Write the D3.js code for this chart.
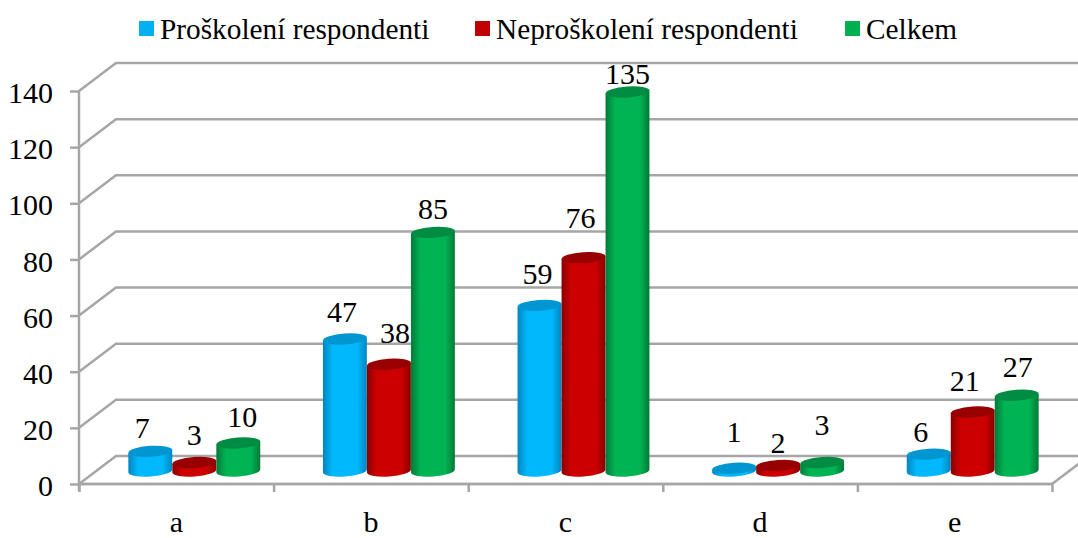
<!DOCTYPE html>
<html><head><meta charset="utf-8">
<script src="https://cdn.jsdelivr.net/npm/d3@7/dist/d3.min.js"></script>
<style>html,body{margin:0;padding:0;background:#fff;overflow:hidden}svg{display:block}text{font-family:"Liberation Serif",serif;fill:#000}</style>
</head><body><svg id="c" width="1078" height="538"></svg>
<script>
const categories = ["a","b","c","d","e"];
const seriesNames = ["Proškolení respondenti","Neproškolení respondenti","Celkem"];
const trained = [7,47,59,1,6];
const untrained = [3,38,76,2,21];
const total = [10,85,135,3,27];
const yTicks = [0,20,40,60,80,100,120,140];
const seriesValues = [trained,untrained,total];

// styling and layout
const bright = ["#00b8fb","#cc0000","#00b454"];
const edge = ["#0085c0","#8a0000","#007a38"];
const cap = ["#0096d2","#980000","#008c42"];
const swatch = ["#00b0f0","#c00000","#00b050"];
const legendX = [139,475,845];
const labelLift = [[13,17,21,26,12],[18,21,30,12,21],[16,13,8,28,18]]; // label baseline above cap centre
const labelShift = [[-8,-3,-2,0,-8],[0,6,-3,0,-8],[4,0,0,0,1]];
const gray = "#a6a6a6", fs = 30, depthX = 37, depthY = 28, rx = 22, ry = 5.5, tilt = 4;

const svg = d3.select("#c");
const y = d3.scaleLinear().domain([0,140]).range([484,91]);
const x = d3.scaleBand().domain(categories).range([79,1052]);
const inner = d3.scaleBand().domain(d3.range(3)).range([x.bandwidth()/2+18-66, x.bandwidth()/2+18+66]);

// gradients
const defs = svg.append("defs");
bright.forEach((b,i)=>{
  const g = defs.append("linearGradient").attr("id","g"+i).attr("x1",0).attr("x2",1).attr("y1",0).attr("y2",0);
  [[0,edge[i]],[.22,b],[.5,b],[.78,b],[1,edge[i]]].forEach(s=>g.append("stop").attr("offset",s[0]).attr("stop-color",s[1]));
});

// back wall gridlines and side diagonals
const grid = svg.append("g").attr("fill","none").attr("stroke",gray).attr("stroke-width",2.5);
grid.selectAll("path").data(yTicks).join("path")
  .attr("d",t=>`M79,${y(t)}L${79+depthX},${y(t)-depthY}L1090,${y(t)-depthY}`);
grid.append("path").attr("d",`M79,${y(0)}L1052,${y(0)}L${1052+depthX},${y(0)-depthY}`);

// axes
const yAxis = svg.append("g").attr("transform","translate(79,0)")
  .call(d3.axisLeft(y).tickValues(yTicks).tickSize(9).tickPadding(4));
const xAxis = svg.append("g").attr("transform",`translate(0,${y(0)})`)
  .call(d3.axisBottom(d3.scaleLinear().domain([0,5]).range([79,1052])).tickValues(d3.range(6)).tickSize(8).tickFormat(""));
[yAxis,xAxis].forEach(a=>{a.selectAll("path,line").attr("stroke",gray).attr("stroke-width",2.5);a.select(".domain").attr("stroke",gray);a.attr("font-family",null).attr("font-size",null);});
yAxis.select(".domain").attr("d",`M0,${y(140)}V${y(0)+7}`);
xAxis.select(".domain").attr("d",`M79,0H1052`);
yAxis.selectAll("text").style("font-size",fs+"px").attr("dy","0.39em").attr("x",-26);
svg.selectAll(".catLabel").data(categories).join("text").attr("class","catLabel")
  .attr("x",d=>x(d)+x.bandwidth()/2).attr("y",531.5).attr("text-anchor","middle").style("font-size",fs+"px").text(d=>d);

// cylinders
const ca = Math.cos(tilt*Math.PI/180), sa = Math.sin(tilt*Math.PI/180);
const base = y(0)-13;
seriesValues.forEach((vals,s)=>{
  const g = svg.append("g");
  const cx = d=>x(categories[d])+inner(s)+inner.bandwidth()/2;
  vals.forEach((v,d)=>{
    const c = cx(d), top = y(v)-13;
    g.append("path").attr("fill",`url(#g${s})`)
      .attr("d",`M${c-rx*ca},${top+rx*sa}L${c-rx*ca},${base+rx*sa}A${rx},${ry} ${-tilt} 0 0 ${c+rx*ca},${base-rx*sa}L${c+rx*ca},${top-rx*sa}Z`);
    g.append("ellipse").attr("cx",c).attr("cy",top).attr("rx",rx).attr("ry",ry)
      .attr("transform",`rotate(${-tilt} ${c} ${top})`).attr("fill",cap[s]);
  });
});
// data labels on top
seriesValues.forEach((vals,s)=>{
  vals.forEach((v,d)=>{
    const c = x(categories[d])+inner(s)+inner.bandwidth()/2;
    svg.append("text").attr("x",c+labelShift[s][d]).attr("y",y(v)-13-labelLift[s][d])
      .attr("text-anchor","middle").style("font-size",fs+"px").text(v);
  });
});

// legend
const leg = svg.append("g");
seriesNames.forEach((n,i)=>{
  leg.append("rect").attr("x",legendX[i]).attr("y",21).attr("width",15).attr("height",15).attr("fill",swatch[i]);
  leg.append("text").attr("x",legendX[i]+21).attr("y",38.5).style("font-size","29.3px").text(n);
});
</script></body></html>
